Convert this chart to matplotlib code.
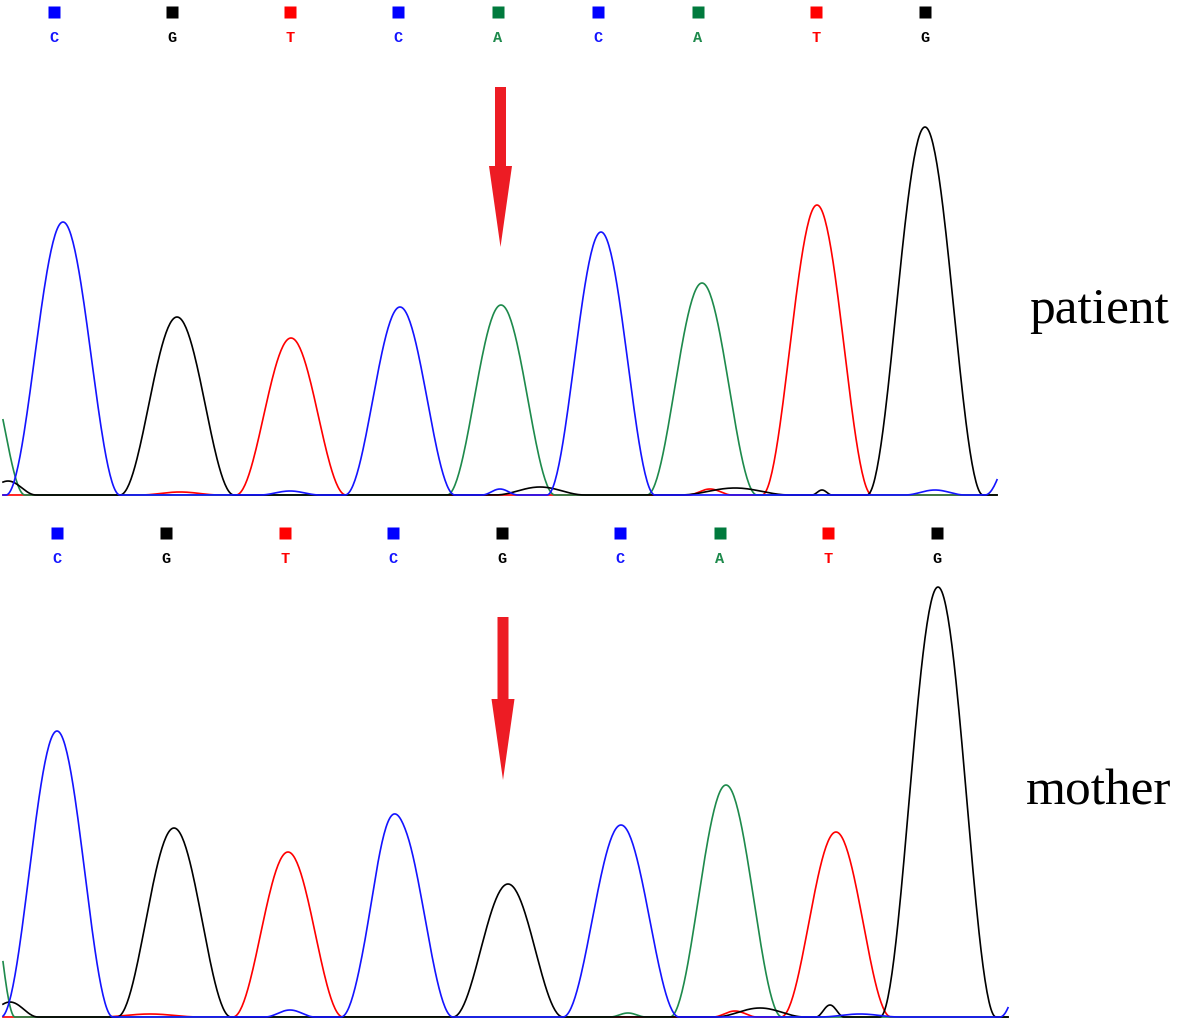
import numpy as np
import matplotlib
matplotlib.use("Agg")
import matplotlib.pyplot as plt

# base colours used by the sequencer software
base_colors = {"A": "#1e8a4c", "C": "#1414ff", "G": "#000000", "T": "#ff0000"}
square_colors = {"A": "#007a3d", "C": "#0000ff", "G": "#000000", "T": "#ff0000"}

# ---- patient trace ----
top_calls = ["C", "G", "T", "C", "A", "C", "A", "T", "G"]
top_call_x = [54, 172, 290, 398, 498, 598, 698, 816, 925]
top_peak_x = [63, 177, 291, 400, 501, 601, 702, 817, 925]
top_peak_h = [273, 178, 157, 188, 190, 263, 212, 290, 368]
top_peak_w = [57, 57, 55, 55, 54, 54, 55, 55, 58]   # half width at the base
# small background bumps (base, position, height, half width)
top_noise_base = ["A", "G", "G", "G", "G", "C", "C", "C", "T", "T", "C"]
top_noise_x = [-15, 8, 540, 735, 822, 290, 500, 935, 710, 180, 1040]
top_noise_h = [130, 14, 8, 7, 5, 4, 6, 5, 6, 3, 135]
top_noise_w = [40, 28, 45, 55, 10, 30, 18, 30, 22, 40, 55]

# ---- mother trace ----
bot_calls = ["C", "G", "T", "C", "G", "C", "A", "T", "G"]
bot_call_x = [57, 166, 285, 393, 502, 620, 720, 828, 937]
bot_peak_x = [57, 174, 288, 397, 508, 621, 726, 836, 938]
bot_peak_h = [286, 189, 165, 198, 133, 192, 232, 185, 430]
bot_peak_w = [56, 57, 55, 56, 55, 58, 56, 55, 58]
bot_noise_base = ["A", "G", "C", "C", "A", "G", "G", "T", "T", "C", "C"]
bot_noise_x = [-15, 10, 290, 385, 628, 760, 830, 735, 150, 1050, 860]
bot_noise_h = [160, 15, 7, 10, 4, 9, 12, 6, 3, 150, 3]
bot_noise_w = [30, 28, 25, 22, 18, 45, 14, 22, 50, 50, 40]

arrow_color = "#ed1c24"


def channel_traces(x, peaks_b, peaks_x, peaks_h, peaks_w):
    traces = {b: np.zeros_like(x) for b in "ACGT"}
    for b, px, ph, pw in zip(peaks_b, peaks_x, peaks_h, peaks_w):
        d = np.clip((x - px) / pw, -1, 1)
        traces[b] += ph * np.cos(np.pi * d / 2) ** 2
    return traces


def draw_panel(ax, x_end, calls, call_x, pk_x, pk_h, pk_w,
               nz_b, nz_x, nz_h, nz_w, sq_y, lab_y, arrow_top, arrow_bot, arrow_x,
               label, label_y):
    x = np.arange(3, x_end + 1, 1.0)
    tr = channel_traces(x, calls + nz_b, pk_x + nz_x, pk_h + nz_h, pk_w + nz_w)
    for b in ["T", "A", "G", "C"]:
        ax.plot(x, tr[b], color=base_colors[b], lw=1.2)
    for b, cx in zip(calls, call_x):
        ax.plot(cx, sq_y, marker="s", ms=8.5, color=square_colors[b], mec="none")
        ax.text(cx, lab_y, b, color=base_colors[b], fontsize=11, fontweight="bold",
                family="Liberation Mono", ha="center", va="center")
    ax.arrow(arrow_x, arrow_top, 0, arrow_bot - arrow_top, width=11, head_width=23,
             head_length=81, length_includes_head=True, color=arrow_color, lw=0)
    ax.text(1099, label_y, label, fontsize=37, family="Liberation Serif",
            ha="center", va="center")
    ax.set_xlim(0, 1180)
    ax.axis("off")


fig = plt.figure(figsize=(11.8, 10.22), dpi=100)
ax_top = fig.add_axes([0, 1 - 500 / 1022, 1, 500 / 1022])
ax_bot = fig.add_axes([0, 0, 1, 501 / 1022])

draw_panel(ax_top, 997, top_calls, top_call_x, top_peak_x, top_peak_h, top_peak_w,
           top_noise_base, top_noise_x, top_noise_h, top_noise_w,
           483, 457, 408, 248, 500.5, "patient", 184)
ax_top.set_ylim(-5, 495)

draw_panel(ax_bot, 1008, bot_calls, bot_call_x, bot_peak_x, bot_peak_h, bot_peak_w,
           bot_noise_base, bot_noise_x, bot_noise_h, bot_noise_w,
           484, 458, 400, 237, 503, "mother", 225)
ax_bot.set_ylim(-5, 496)

fig.savefig("out.png", dpi=100)
